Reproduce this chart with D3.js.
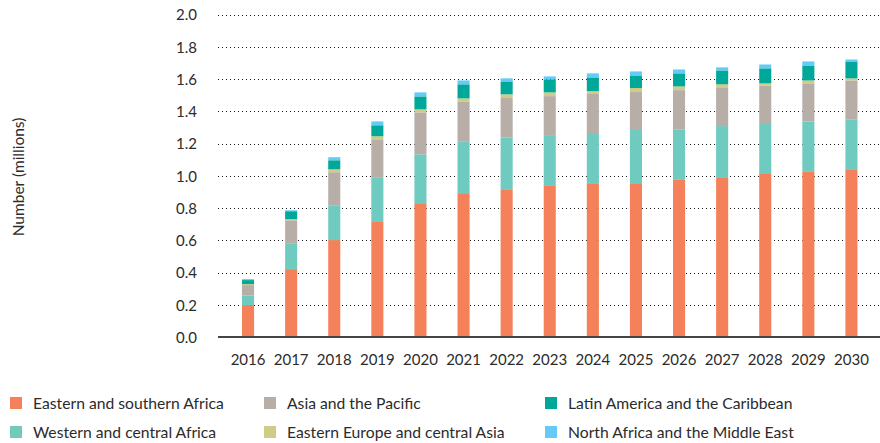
<!DOCTYPE html>
<html lang="en">
<head>
    <meta charset="UTF-8">
    <title>Stacked bars by region</title>
    <style>
        body { margin: 0; background: #fff; }
        svg text { font-family: Lato, "Open Sans", sans-serif; fill: #2b2b2b; }
        .grid line { stroke: #1a1a1a; stroke-width: 1.3; stroke-dasharray: 1.3,2.7; shape-rendering: crispEdges; }
        .axis path, .axis line { display: none; }
    </style>
</head>
<body>
    <div id='chart'></div>

    <script src='https://cdnjs.cloudflare.com/ajax/libs/d3/7.8.5/d3.min.js'></script>
    <script type='text/javascript'>
        const years = ['2016','2017','2018','2019','2020','2021','2022','2023','2024','2025','2026','2027','2028','2029','2030'];
        const yTicks = [0, 0.2, 0.4, 0.6, 0.8, 1.0, 1.2, 1.4, 1.6, 1.8, 2.0];

        const seriesNames = [
            'Eastern and southern Africa',
            'Western and central Africa',
            'Asia and the Pacific',
            'Eastern Europe and central Asia',
            'Latin America and the Caribbean',
            'North Africa and the Middle East'
        ];
        const seriesColors = ['#F4815A', '#6FCAC0', '#B7AEA8', '#D0CB86', '#00A89A', '#63CBF6'];

        // values in millions
        const easternSouthern = [0.198, 0.421, 0.601, 0.718, 0.830, 0.892, 0.912, 0.937, 0.949, 0.954, 0.978, 0.991, 1.011, 1.024, 1.036];
        const westernCentral  = [0.060, 0.157, 0.216, 0.273, 0.303, 0.322, 0.326, 0.310, 0.310, 0.330, 0.310, 0.317, 0.310, 0.313, 0.314];
        const asiaPacific     = [0.064, 0.146, 0.205, 0.235, 0.260, 0.247, 0.244, 0.247, 0.248, 0.235, 0.243, 0.236, 0.239, 0.236, 0.241];
        const easternEurope   = [0.006, 0.007, 0.018, 0.019, 0.019, 0.019, 0.023, 0.023, 0.018, 0.025, 0.023, 0.023, 0.013, 0.018, 0.013];
        const latinAmerica    = [0.025, 0.049, 0.056, 0.068, 0.080, 0.087, 0.080, 0.081, 0.085, 0.078, 0.081, 0.086, 0.093, 0.093, 0.105];
        const northAfrica     = [0.006, 0.006, 0.019, 0.024, 0.025, 0.024, 0.019, 0.018, 0.025, 0.025, 0.024, 0.019, 0.024, 0.025, 0.012];

        const seriesValues = [easternSouthern, westernCentral, asiaPacific, easternEurope, latinAmerica, northAfrica];

        const width = 880;
        const height = 443;
        const plotLeft = 218;
        const plotRight = 880;

        // build table for d3.stack
        const table = years.map((yr, i) => {
            const row = { year: yr };
            seriesNames.forEach((name, s) => row[name] = seriesValues[s][i]);
            return row;
        });
        const stacked = d3.stack().keys(seriesNames)(table);

        let svg = d3.select('#chart')
                    .append('svg')
                      .attr('width', width)
                      .attr('height', height);

        let xScale = d3.scaleBand()
                       .domain(years)
                       .range([226.5, 873])
                       .paddingInner(0.72)
                       .paddingOuter(0.36);
        let yScale = d3.scaleLinear().domain([0, 2]).range([337, 14.5]);

        // dotted gridlines
        svg.append('g')
             .attr('class', 'grid')
           .selectAll('line')
           .data(yTicks.filter(d => d > 0))
           .enter()
           .append('line')
             .attr('x1', plotLeft)
             .attr('x2', plotRight)
             .attr('y1', d => Math.round(yScale(d)) + 0.5)
             .attr('y2', d => Math.round(yScale(d)) + 0.5);

        // y axis labels
        let yAxis = d3.axisLeft(yScale).tickValues(yTicks).tickFormat(d3.format('.1f')).tickSize(0).tickPadding(0);
        svg.append('g')
             .attr('class', 'axis y-axis')
             .attr('transform', 'translate(197, 0)')
           .call(yAxis)
           .selectAll('text')
             .style('font-size', '15px')
             .attr('dy', '0.35em');

        // stacked bars
        let layers = svg.selectAll('g.layer')
                        .data(stacked)
                        .enter()
                        .append('g')
                          .attr('class', 'layer')
                          .attr('fill', (d, i) => seriesColors[i]);

        layers.selectAll('rect')
              .data(d => d)
              .enter()
              .append('rect')
                .attr('x', d => xScale(d.data.year))
                .attr('width', xScale.bandwidth())
                .attr('y', d => yScale(d[1]))
                .attr('height', d => yScale(d[0]) - yScale(d[1]));

        // baseline
        svg.append('line')
             .attr('x1', plotLeft)
             .attr('x2', plotRight)
             .attr('y1', yScale(0))
             .attr('y2', yScale(0))
             .attr('stroke', '#444')
             .attr('stroke-width', 2);

        // x axis labels
        let xAxis = d3.axisBottom(xScale).tickSize(0).tickPadding(0);
        svg.append('g')
             .attr('class', 'axis x-axis')
             .attr('transform', 'translate(0, 360)')
           .call(xAxis)
           .selectAll('text')
             .style('font-size', '15px')
             .attr('y', 0)
             .attr('dy', '0.35em');

        // y title
        svg.append('text')
             .attr('transform', 'translate(24, 177) rotate(-90)')
             .attr('text-anchor', 'middle')
             .style('font-size', '15.5px')
             .text('Number (millions)');

        // legend
        const legendCols = [10, 264, 545];
        const legendRows = [403, 432];
        const legendOrder = [0, 2, 4, 1, 3, 5];
        let legend = svg.selectAll('g.legend')
                        .data(legendOrder)
                        .enter()
                        .append('g')
                          .attr('class', 'legend')
                          .attr('transform', (d, i) => `translate(${legendCols[i % 3]}, ${legendRows[Math.floor(i / 3)]})`);
        legend.append('rect')
                .attr('x', 0)
                .attr('y', -6)
                .attr('width', 12)
                .attr('height', 12)
                .attr('fill', d => seriesColors[d]);
        legend.append('text')
                .attr('x', 23)
                .attr('dy', '0.35em')
                .style('font-size', '15.7px')
                .text(d => seriesNames[d]);
    </script>
</body>
</html>
